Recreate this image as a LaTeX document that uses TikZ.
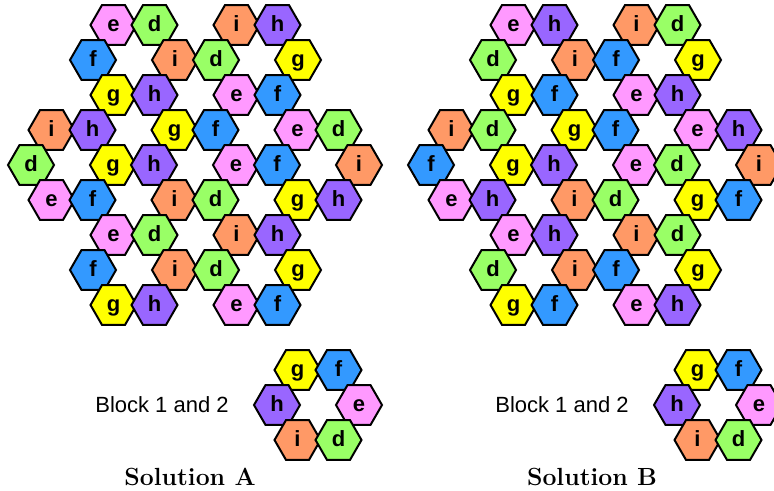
\documentclass[tikz,border=0pt]{standalone}
\usepackage{fontspec}
\setsansfont{Liberation Sans}
\usetikzlibrary{shapes.geometric}

\definecolor{colE}{RGB}{255,153,255}
\definecolor{colD}{RGB}{153,255,102}
\definecolor{colF}{RGB}{51,153,255}
\definecolor{colI}{RGB}{255,153,102}
\definecolor{colG}{RGB}{255,255,0}
\definecolor{colH}{RGB}{153,102,255}

\tikzset{
    hexa/.style={regular polygon,regular polygon sides=6,draw=black,line width=1pt,
        minimum size=23pt,inner sep=0pt,text height=6.5pt,text depth=0pt,
        font=\sffamily\bfseries\fontsize{11}{12}\selectfont},
    hex-d/.style={hexa,fill=colD},
    hex-e/.style={hexa,fill=colE},
    hex-f/.style={hexa,fill=colF},
    hex-g/.style={hexa,fill=colG},
    hex-h/.style={hexa,fill=colH},
    hex-i/.style={hexa,fill=colI},
    blocktext/.style={font=\sffamily\fontsize{11}{13}\selectfont},
    soltext/.style={font=\bfseries\fontsize{12.4}{14}\selectfont}
}

% anello di sei esagoni: nome, centro x, centro y, poi TL TR L R BL BR
\newcommand{\hexring}[9]{%
    \node[hex-#4] (#1-tl) at ({#2-20.5},{#3-35}) {#4};
    \node[hex-#5] (#1-tr) at ({#2+20.5},{#3-35}) {#5};
    \node[hex-#6] (#1-l) at ({#2-41},{#3}) {#6};
    \node[hex-#7] (#1-r) at ({#2+41},{#3}) {#7};
    \node[hex-#8] (#1-bl) at ({#2-20.5},{#3+35}) {#8};
    \node[hex-#9] (#1-br) at ({#2+20.5},{#3+35}) {#9};
}

\begin{document}
\begin{tikzpicture}[x=0.5pt,y=-0.5pt]
        \useasboundingbox (0,0) rectangle (774,491);
        %soluzione A
        \hexring{atl}{134}{60}{e}{d}{f}{i}{g}{h}
        \hexring{atr}{257}{60}{i}{h}{d}{g}{e}{f}
        \hexring{al}{72}{165}{i}{h}{d}{g}{e}{f}
        \hexring{ac}{195}{165}{g}{f}{h}{e}{i}{d}
        \hexring{ar}{318}{165}{e}{d}{f}{i}{g}{h}
        \hexring{abl}{134}{270}{e}{d}{f}{i}{g}{h}
        \hexring{abr}{257}{270}{i}{h}{d}{g}{e}{f}
        \hexring{ablk}{318}{405}{g}{f}{h}{e}{i}{d}
        \node[blocktext] (blkA) at (162,405) {Block 1 and 2};
        \node[soltext] (solA) at (190,477) {Solution A};
        %soluzione B
        \hexring{btl}{534}{60}{e}{h}{d}{i}{g}{f}
        \hexring{btr}{657}{60}{i}{d}{f}{g}{e}{h}
        \hexring{bl}{472}{165}{i}{d}{f}{g}{e}{h}
        \hexring{bc}{595}{165}{g}{f}{h}{e}{i}{d}
        \hexring{br}{718}{165}{e}{h}{d}{i}{g}{f}
        \hexring{bbl}{534}{270}{e}{h}{d}{i}{g}{f}
        \hexring{bbr}{657}{270}{i}{d}{f}{g}{e}{h}
        \hexring{bblk}{718}{405}{g}{f}{h}{e}{i}{d}
        \node[blocktext] (blkB) at (562,405) {Block 1 and 2};
        \node[soltext] (solB) at (592,477) {Solution B};

    \end{tikzpicture}
\end{document}
